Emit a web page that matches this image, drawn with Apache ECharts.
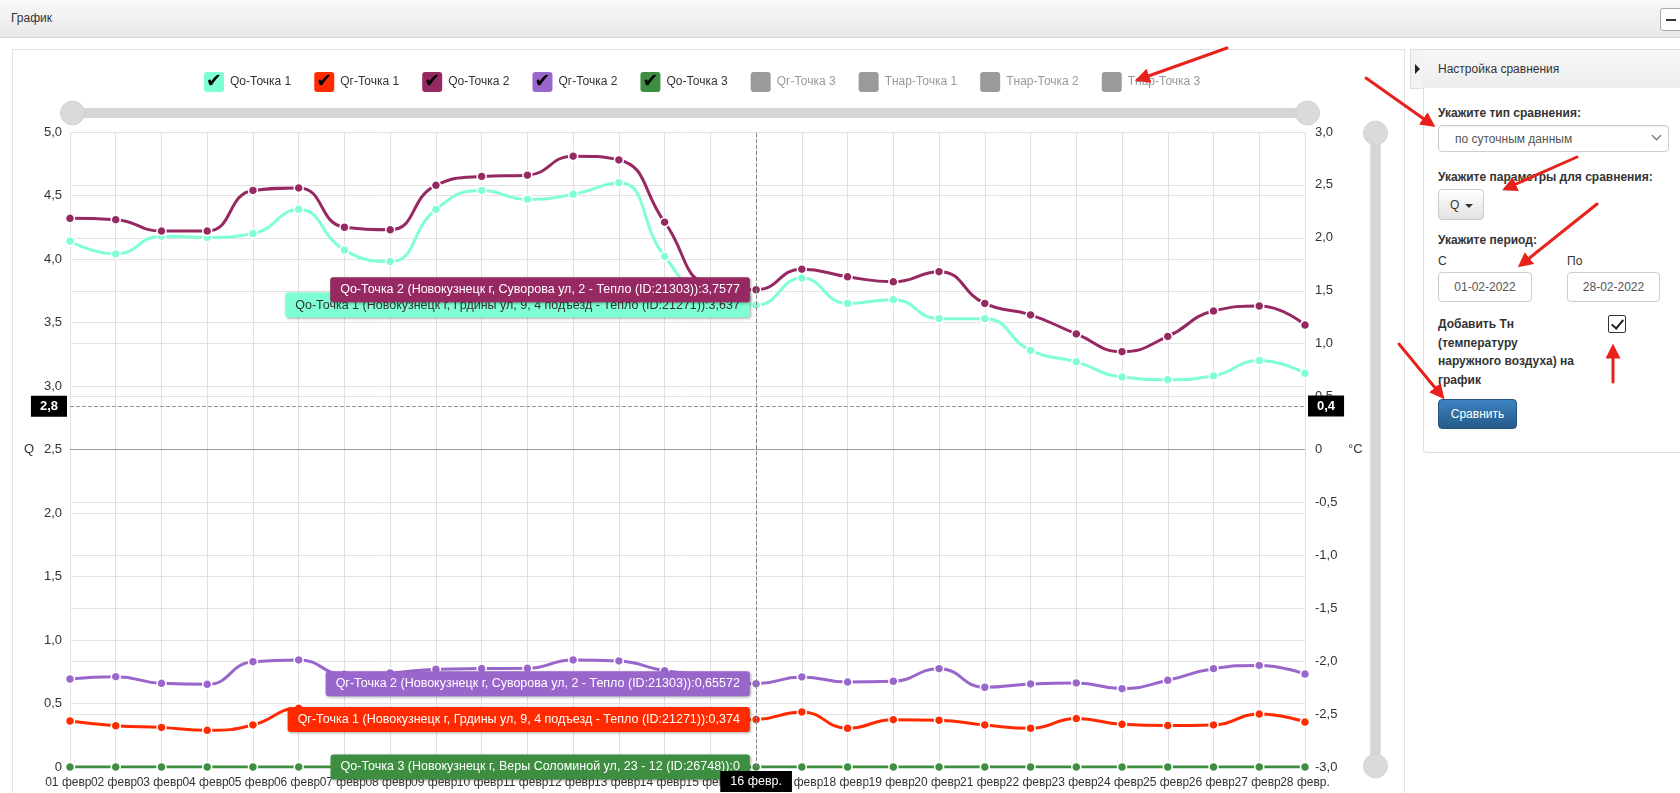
<!DOCTYPE html>
<html>
<head>
<meta charset="utf-8">
<script src="https://cdn.jsdelivr.net/npm/echarts@6/dist/echarts.min.js"></script>
<style>
html,body{margin:0;padding:0;width:1680px;height:793px;overflow:hidden;background:#fff;font-family:"Liberation Sans",Arial,sans-serif;color:#333;}
.abs{position:absolute;}
#hdr{left:0;top:0;width:1680px;height:37px;background:linear-gradient(#f8f8f8,#e9e9e9);border-bottom:1px solid #d4d4d4;}
#hdr span{position:absolute;left:11px;top:11px;font-size:12px;color:#333;}
#hbtn{left:1660px;top:8px;width:24px;height:21px;border:1px solid #aaa;border-radius:3px;background:#fff;}
#hbtn:after{content:"";position:absolute;left:5px;top:10px;width:10px;height:2px;background:#333;}
#cpanel{left:12px;top:49px;width:1391px;height:800px;border:1px solid #e2e2e2;background:#fff;}
#strip{left:1410px;top:49px;width:12px;height:38px;border:1px solid #ddd;background:#f3f3f3;}
#strip:after{content:"";position:absolute;left:4px;top:14px;border-left:5px solid #222;border-top:5px solid transparent;border-bottom:5px solid transparent;}
#shead{left:1423px;top:49px;width:260px;height:38px;border:1px solid #ddd;border-left:none;background:linear-gradient(#f8f8f8,#ececec);}
#shead span{position:absolute;left:15px;top:12px;font-size:12px;color:#333;}
#sbody{left:1423px;top:88px;width:260px;height:364px;border-left:1px solid #ddd;border-bottom:1px solid #ddd;border-bottom-left-radius:4px;background:#fff;}
.lbl{font-size:12px;font-weight:bold;color:#333;white-space:nowrap;}
.sel{left:1438px;top:125px;width:229px;height:25px;border:1px solid #ccc;border-radius:4px;box-shadow:inset 0 1px 1px rgba(0,0,0,.075);background:#fff;}
.sel span{position:absolute;left:16px;top:6px;font-size:12px;color:#555;}
.sel i{position:absolute;right:8px;top:6px;width:6px;height:6px;border-right:1.5px solid #555;border-bottom:1.5px solid #555;transform:rotate(45deg);}
.qbtn{left:1438px;top:189px;width:44px;height:29px;border:1px solid #ccc;border-radius:4px;background:linear-gradient(#fff,#e2e2e2);}
.qbtn span{position:absolute;left:11px;top:8px;font-size:12px;color:#333;}
.qbtn i{position:absolute;left:26px;top:14px;border-top:4px solid #333;border-left:4px solid transparent;border-right:4px solid transparent;}
.inp{top:272px;height:28px;border:1px solid #ccc;border-radius:4px;background:#fff;font-size:12px;color:#555;text-align:center;line-height:28px;}
.chk{left:1608px;top:315px;width:16px;height:16px;border:1px solid #333;border-radius:2px;background:#fff;}
.chk:after{content:"";position:absolute;left:5px;top:1px;width:5px;height:10px;border-right:2px solid #222;border-bottom:2px solid #222;transform:rotate(40deg);}
.go{left:1438px;top:399px;width:77px;height:28px;border:1px solid #245580;border-radius:4px;background:linear-gradient(#3c83c2,#265a88);color:#fff;font-size:12px;text-align:center;line-height:28px;}
#chart{position:absolute;left:0;top:0;width:1680px;height:793px;}
#arrows{position:absolute;left:0;top:0;width:1680px;height:793px;pointer-events:none;}
</style>
</head>
<body>
<div id="hdr" class="abs"><span>График</span></div>
<div id="hbtn" class="abs"></div>
<div id="cpanel" class="abs"></div>
<div id="strip" class="abs"></div>
<div id="shead" class="abs"><span>Настройка сравнения</span></div>
<div id="sbody" class="abs"></div>
<div class="abs lbl" style="left:1438px;top:106px;">Укажите тип сравнения:</div>
<div class="abs sel"><span>по суточным данным</span><i></i></div>
<div class="abs lbl" style="left:1438px;top:170px;">Укажите параметры для сравнения:</div>
<div class="abs qbtn"><span>Q</span><i></i></div>
<div class="abs lbl" style="left:1438px;top:233px;">Укажите период:</div>
<div class="abs" style="left:1438px;top:254px;font-size:12px;color:#333;">С</div>
<div class="abs" style="left:1567px;top:254px;font-size:12px;color:#333;">По</div>
<div class="abs inp" style="left:1438px;width:92px;">01-02-2022</div>
<div class="abs inp" style="left:1567px;width:91px;">28-02-2022</div>
<div class="abs lbl" style="left:1438px;top:315px;line-height:18.5px;">Добавить Тн<br>(температуру<br>наружного воздуха) на<br>график</div>
<div class="abs chk"></div>
<div class="abs go">Сравнить</div>
<div id="chart"></div>
<svg id="arrows" xmlns="http://www.w3.org/2000/svg">
<defs><marker id="ah" markerWidth="5" markerHeight="5" refX="3.2" refY="2.5" orient="auto" markerUnits="strokeWidth"><path d="M0,0 L5,2.5 L0,5 z" fill="#e8221b"/></marker></defs>
<g stroke="#e8221b" stroke-width="3" fill="none" stroke-linecap="round" marker-end="url(#ah)">
<line x1="1227" y1="48" x2="1140" y2="79"/>
<line x1="1366" y1="78" x2="1431" y2="124"/>
<line x1="1577" y1="157" x2="1507" y2="188"/>
<line x1="1597" y1="204" x2="1522" y2="264"/>
<line x1="1399" y1="344" x2="1441" y2="395"/>
<line x1="1613" y1="382" x2="1613" y2="349"/>
</g>
</svg>
<script>
const categories = ['01 февр.','02 февр.','03 февр.','04 февр.','05 февр.','06 февр.','07 февр.','08 февр.','09 февр.','10 февр.','11 февр.','12 февр.','13 февр.','14 февр.','15 февр.','16 февр.','17 февр.','18 февр.','19 февр.','20 февр.','21 февр.','22 февр.','23 февр.','24 февр.','25 февр.','26 февр.','27 февр.','28 февр.'];
const qo1 = [4.14,4.04,4.18,4.17,4.20,4.39,4.07,3.98,4.39,4.54,4.47,4.51,4.60,4.02,3.68,3.637,3.85,3.65,3.68,3.53,3.53,3.28,3.19,3.07,3.05,3.08,3.20,3.10];
const qg1 = [0.362,0.325,0.312,0.289,0.331,0.462,0.42,0.38,0.40,0.40,0.39,0.41,0.40,0.38,0.37,0.374,0.433,0.305,0.373,0.368,0.331,0.305,0.381,0.336,0.326,0.331,0.417,0.354];
const qo2 = [4.32,4.31,4.22,4.22,4.54,4.56,4.25,4.23,4.58,4.65,4.66,4.81,4.78,4.29,3.79,3.7577,3.92,3.86,3.82,3.90,3.65,3.56,3.41,3.27,3.39,3.59,3.63,3.48];
const qg2 = [0.693,0.711,0.659,0.651,0.829,0.843,0.73,0.74,0.77,0.775,0.777,0.843,0.835,0.758,0.72,0.65572,0.709,0.669,0.675,0.774,0.628,0.654,0.662,0.617,0.683,0.774,0.80,0.732];
const qo3 = [0,0,0,0,0,0,0,0,0,0,0,0,0,0,0,0,0,0,0,0,0,0,0,0,0,0,0,0];
const qg3 = [];
const tn1 = [];
const tn2 = [];
const tn3 = [];
const legendNames = ['Qo-Точка 1','Qг-Точка 1','Qo-Точка 2','Qг-Точка 2','Qo-Точка 3','Qг-Точка 3','Тнар-Точка 1','Тнар-Точка 2','Тнар-Точка 3'];
const fullNames = [
  'Qo-Точка 1 (Новокузнецк г, Грдины ул, 9, 4 подъезд - Тепло (ID:21271))',
  'Qг-Точка 1 (Новокузнецк г, Грдины ул, 9, 4 подъезд - Тепло (ID:21271))',
  'Qo-Точка 2 (Новокузнецк г, Суворова ул, 2 - Тепло (ID:21303))',
  'Qг-Точка 2 (Новокузнецк г, Суворова ул, 2 - Тепло (ID:21303))',
  'Qo-Точка 3 (Новокузнецк г, Веры Соломиной ул, 23 - 12 (ID:26748))',
  'Qг-Точка 3', 'Тнар-Точка 1', 'Тнар-Точка 2', 'Тнар-Точка 3'
];
const visible = [true,true,true,true,true,false,false,false,false];
const colors = ['#7FFFD4','#FF2A00','#962862','#9966CC','#3E8E41','#6FA8DC','#E69138','#B45F06','#674EA7'];
const balloonIndex = 15;
const pointerQ = 2.84;
const pointerT = 0.41;

const fmt = v => v === 0 ? '0' : v.toFixed(1).replace('.', ',');
const FONT = '"Liberation Sans", Arial, sans-serif';

function mkSeries(i, data, yIdx) {
  const c = colors[i];
  return {
    name: legendNames[i], type: 'line', yAxisIndex: yIdx, smooth: 0.5,
    symbol: 'circle', symbolSize: 9, showSymbol: true, animation: false,
    lineStyle: { width: 3, color: c },
    itemStyle: { color: c, borderColor: '#fff', borderWidth: 1.5 },
    emphasis: { disabled: true },
    data: data.map((v, k) => k === balloonIndex ? {
      value: v,
      label: {
        show: true, position: 'left', distance: 1,
        formatter: p => fullNames[i] + ':' + String(p.value).replace('.', ','),
        backgroundColor: c, color: i === 0 ? '#333' : '#fff',
        fontSize: 12.5, fontFamily: FONT, lineHeight: 14, padding: [6, 10, 5, 10], borderRadius: 3,
        shadowBlur: 3, shadowColor: 'rgba(0,0,0,0.35)', shadowOffsetX: 1, shadowOffsetY: 1
      }
    } : v)
  };
}

const rich = { t: { padding: [0, 0, 0, 6], fontSize: 12, fontFamily: FONT } };
colors.forEach((c, i) => {
  rich['b' + i] = {
    width: 20, height: 20, lineHeight: 20, align: 'center',
    backgroundColor: visible[i] ? c : '#9a9a9a', borderRadius: 3,
    color: '#000', fontSize: 19, fontFamily: '"DejaVu Sans"'
  };
});
const selected = {};
legendNames.forEach((n, i) => selected[n] = visible[i]);

const dzCommon = {
  type: 'slider', start: 0, end: 100, showDetail: false, showDataShadow: false,
  brushSelect: false, moveHandleSize: 0, filterMode: 'none', zoomLock: true,
  backgroundColor: '#dcdcdc', fillerColor: '#d6d6d6', borderColor: 'transparent',
  handleIcon: 'circle', handleSize: 24,
  handleStyle: { color: '#dadada', borderColor: '#d2d2d2' },
  dataBackground: { lineStyle: { opacity: 0 }, areaStyle: { opacity: 0 } },
  selectedDataBackground: { lineStyle: { opacity: 0 }, areaStyle: { opacity: 0 } }
};

const ptrLabel = { show: true, backgroundColor: '#000', color: '#fff', fontSize: 13, fontWeight: 'bold', padding: [4, 9], borderRadius: 0, fontFamily: FONT };

const option = {
  animation: false,
  textStyle: { fontFamily: FONT },
  legend: {
    left: 193, top: 67, itemWidth: 0, itemHeight: 0, icon: 'rect', itemGap: 17,
    data: legendNames, selected: selected, selectedMode: false,
    textStyle: { color: '#333', fontSize: 12, rich: rich }, inactiveColor: '#999',
    formatter: name => { const i = legendNames.indexOf(name); return '{b' + i + '|' + (visible[i] ? '✔' : '\u00a0') + '}{t|' + name + '}'; }
  },
  grid: { left: 70, right: 375, top: 132, bottom: 26, containLabel: false },
  axisPointer: { triggerOn: 'none' },
  xAxis: {
    type: 'category', data: categories, boundaryGap: false,
    axisLine: { show: true, lineStyle: { color: '#ccc' } }, axisTick: { show: false },
    axisLabel: { interval: 0, color: '#333', fontSize: 12, margin: 10, backgroundColor: '#fff' },
    splitLine: { show: true, interval: 0, lineStyle: { color: '#e0e0e0' } },
    axisPointer: { show: true, status: 'show', value: balloonIndex, type: 'line', triggerTooltip: false,
      lineStyle: { color: '#888', type: 'dashed', width: 1 },
      label: Object.assign({}, ptrLabel, { fontWeight: 'normal', fontSize: 12.5, padding: [4, 10], margin: 4 }) }
  },
  yAxis: [
    { type: 'value', min: 0, max: 5, interval: 0.5, position: 'left',
      name: 'Q', nameLocation: 'middle', nameGap: 36, nameRotate: 0, nameTextStyle: { color: '#333', fontSize: 13 },
      axisLine: { show: false }, axisTick: { show: false },
      axisLabel: { formatter: fmt, color: '#333', fontSize: 13, margin: 8 },
      splitLine: { lineStyle: { color: '#e2e2e2' } },
      axisPointer: { show: true, status: 'show', value: pointerQ, type: 'line', triggerTooltip: false,
        lineStyle: { color: '#999', type: 'dashed', width: 1 },
        label: Object.assign({}, ptrLabel, { margin: 3, formatter: p => fmt(p.value) }) } },
    { type: 'value', min: -3, max: 3, interval: 0.5, position: 'right',
      name: '°C', nameLocation: 'middle', nameGap: 43, nameRotate: 0, nameTextStyle: { color: '#333', fontSize: 13 },
      axisLine: { show: false }, axisTick: { show: false },
      axisLabel: { formatter: fmt, color: '#333', fontSize: 13, margin: 10 },
      splitLine: { lineStyle: { color: '#e2e2e2' } },
      axisPointer: { show: true, status: 'show', value: pointerT, type: 'line', triggerTooltip: false,
        lineStyle: { color: '#999', type: 'dashed', width: 1 },
        label: Object.assign({}, ptrLabel, { margin: 3, formatter: p => fmt(p.value) }) } }
  ],
  dataZoom: [
    Object.assign({}, dzCommon, { xAxisIndex: 0, orient: 'horizontal', left: 70, width: 1237, top: 108, height: 10 }),
    Object.assign({}, dzCommon, { yAxisIndex: 1, orient: 'vertical', left: 1370, width: 10, top: 132, height: 635 })
  ],
  series: [
    mkSeries(0, qo1, 0), mkSeries(1, qg1, 0), mkSeries(2, qo2, 0), mkSeries(3, qg2, 0), mkSeries(4, qo3, 0),
    mkSeries(5, qg3, 0), mkSeries(6, tn1, 1), mkSeries(7, tn2, 1), mkSeries(8, tn3, 1),
    { name: 'zero', type: 'line', yAxisIndex: 1, data: [], silent: true, z: 1,
      markLine: { silent: true, symbol: 'none', label: { show: false }, animation: false,
        lineStyle: { color: '#9a9a9a', type: 'solid', width: 1 }, data: [{ yAxis: 0 }] } }
  ]
};
const chart = echarts.init(document.getElementById('chart'), null, { renderer: 'canvas' });
chart.setOption(option);
</script>
</body>
</html>
